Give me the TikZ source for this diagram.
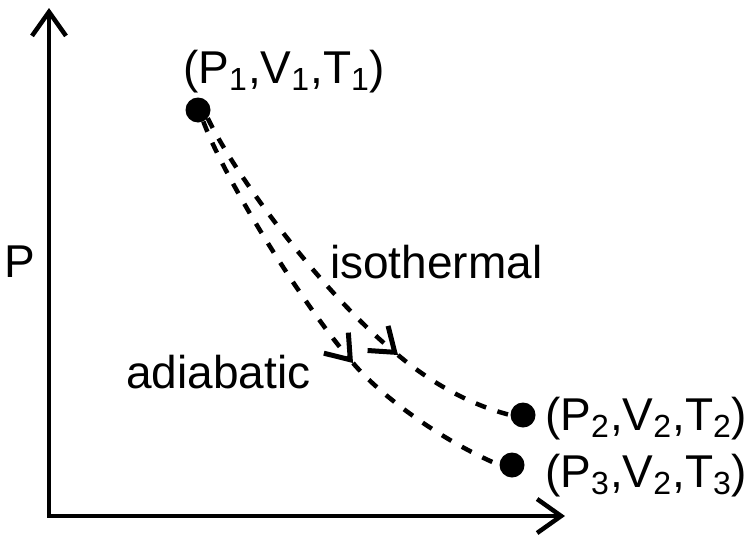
\documentclass[tikz,border=0pt]{standalone}
\usepackage{fontspec}
\setmainfont{Liberation Sans}
\usetikzlibrary{arrows.meta}
\newcommand{\sbs}[1]{\raisebox{-7pt}{\fontsize{32}{32}\selectfont #1}\kern1pt}
\begin{document}
\begin{tikzpicture}[x=1pt,y=-1pt,
  lbl/.style={inner sep=0pt,font=\fontsize{46}{46}\selectfont,anchor=base west},
  dot/.style={circle,fill=black,inner sep=0pt,minimum size=25pt},
  axis/.style={line width=4.5pt,{Straight Barb[length=24pt,width=34pt,line width=4.5pt]}-{Straight Barb[length=24pt,width=34pt,line width=4.5pt]}},
  path/.style={line width=4.5pt,dash pattern=on 11pt off 12pt},
  mid/.style={path,-{Straight Barb[length=22pt,width=32pt,line width=5pt]}}]
\useasboundingbox (0,0) rectangle (751,546);
% axes
\coordinate (ytop) at (49,8);
\coordinate (xend) at (565,516);
\draw[axis] (ytop) |- (xend);
\node[lbl] (plabel) at (4,277) {P};
% states
\node[dot] (p1) at (198,110) {};
\node[dot] (p2) at (523,415) {};
\node[dot] (p3) at (512,465) {};
\node[lbl] (l1) at (183,83) {(P\sbs{1},V\sbs{1},T\sbs{1})};
\node[lbl] (l2) at (545,430) {(P\sbs{2},V\sbs{2},T\sbs{2})};
\node[lbl] (l3) at (545,487) {(P\sbs{3},V\sbs{2},T\sbs{3})};
% process curves
\coordinate (iso) at (398,355);
\coordinate (adi) at (353,363);
\draw[mid] (p1.-40) .. controls (235,175) and (320,290) .. (iso);
\draw[path] (iso) .. controls (430,382) and (470,405) .. (p2.west);
\draw[mid] (p1.-65) .. controls (225,180) and (300,300) .. (adi);
\draw[path] (adi) .. controls (380,395) and (440,440) .. (p3.west);
\node[lbl] (tiso) at (330,278) {isothermal};
\node[lbl] (tadi) at (126,388) {adiabatic};
\end{tikzpicture}
\end{document}
